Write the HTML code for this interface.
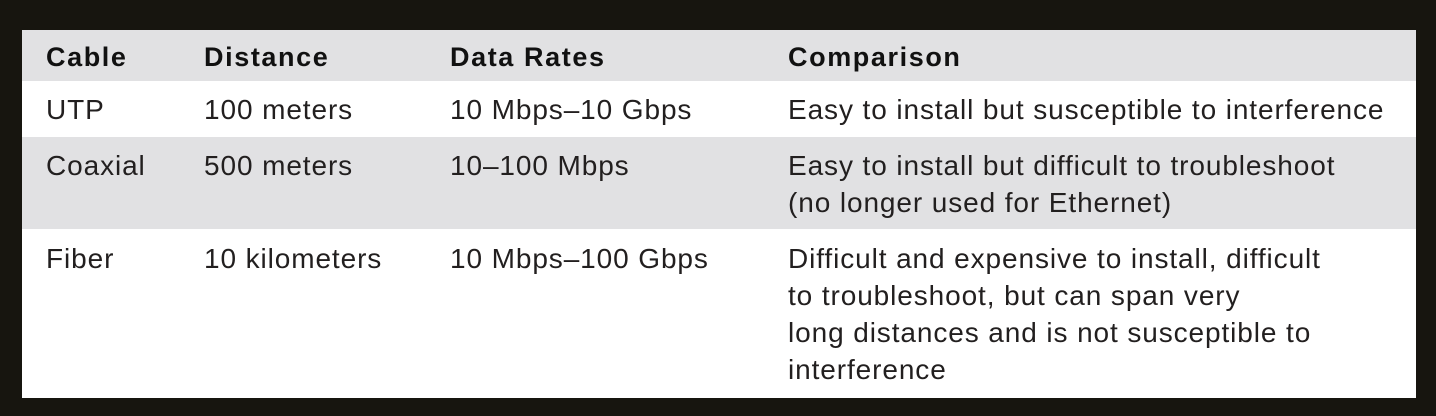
<!DOCTYPE html>
<html><head><style>
body{margin:0;width:1436px;height:416px;background:#17150f;position:relative;overflow:hidden;font-family:"Liberation Sans",sans-serif;color:#221f1f}
.r{position:absolute;left:22px;width:1394px}
.t{position:absolute;white-space:nowrap;font-size:28px;line-height:37px;letter-spacing:0.9px}
.h{font-weight:bold;font-size:27px;letter-spacing:1.6px;color:#111}
</style></head><body>
<div class="r" style="top:30px;height:51px;background:#e1e1e3"></div>
<div class="r" style="top:81px;height:56px;background:#fff"></div>
<div class="r" style="top:137px;height:92px;background:#e1e1e3"></div>
<div class="r" style="top:229px;height:169px;background:#fff"></div>

<div class="t h" style="left:46px;top:39px">Cable</div>
<div class="t h" style="left:204px;top:39px">Distance</div>
<div class="t h" style="left:450px;top:39px">Data Rates</div>
<div class="t h" style="left:788px;top:39px">Comparison</div>

<div class="t" style="left:46px;top:91px">UTP</div>
<div class="t" style="left:204px;top:91px">100 meters</div>
<div class="t" style="left:450px;top:91px">10 Mbps–10 Gbps</div>
<div class="t" style="left:788px;top:91px">Easy to install but susceptible to interference</div>

<div class="t" style="left:46px;top:147px">Coaxial</div>
<div class="t" style="left:204px;top:147px">500 meters</div>
<div class="t" style="left:450px;top:147px">10–100 Mbps</div>
<div class="t" style="left:788px;top:147px">Easy to install but difficult to troubleshoot<br>(no longer used for Ethernet)</div>

<div class="t" style="left:46px;top:240px">Fiber</div>
<div class="t" style="left:204px;top:240px">10 kilometers</div>
<div class="t" style="left:450px;top:240px">10 Mbps–100 Gbps</div>
<div class="t" style="left:788px;top:240px">Difficult and expensive to install, difficult<br>to troubleshoot, but can span very<br>long distances and is not susceptible to<br>interference</div>
</body></html>
